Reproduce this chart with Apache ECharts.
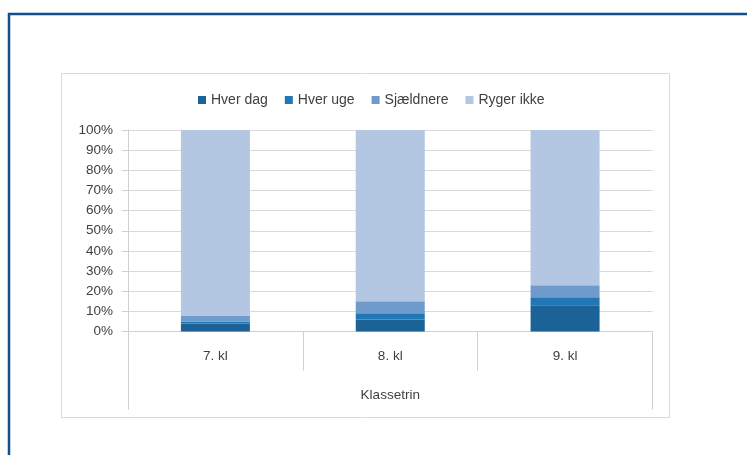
<!DOCTYPE html>
<html>
<head>
<meta charset="utf-8">
<script src="https://cdn.jsdelivr.net/npm/echarts@6/dist/echarts.min.js"></script>
<style>
html,body{margin:0;padding:0;background:#fff;}
#chart{width:747px;height:455px;}
</style>
</head>
<body>
<div id="chart"></div>
<script>
const categories = ['7. kl', '8. kl', '9. kl'];
const groupLabel = ['Klassetrin'];
const seriesNames = ['Hver dag', 'Hver uge', 'Sjældnere', 'Ryger ikke'];
const hverDag = [4, 6, 13];
const hverUge = [1, 3, 4];
const sjaeldnere = [3, 6, 6];
const rygerIkke = [92, 85, 77];
const colors = ['#1B6396', '#2176B4', '#6E9BCB', '#B3C6E2'];
const values = [hverDag, hverUge, sjaeldnere, rygerIkke];

const FONT = 'Liberation Sans';
const chart = echarts.init(document.getElementById('chart'));
chart.setOption({
  animation: false,
  textStyle: { fontFamily: FONT },
  graphic: [
    { type: 'rect', shape: { x: 9, y: 14, width: 800, height: 500 }, style: { fill: 'none', stroke: '#124E8C', lineWidth: 2.5 }, z: 0 },
    { type: 'rect', shape: { x: 61.5, y: 73.5, width: 608, height: 344 }, style: { fill: 'none', stroke: '#D9D9D9', lineWidth: 1 }, z: 0 }
  ],
  legend: {
    data: seriesNames,
    left: 193, top: 88,
    itemWidth: 8, itemHeight: 8, itemGap: 17,
    icon: 'rect',
    textStyle: { fontSize: 14, color: '#404040', fontFamily: FONT }
  },
  grid: { left: 128, right: 94.5, top: 130, bottom: 123.5 },
  xAxis: [
    {
      type: 'category', data: categories, position: 'bottom',
      axisLine: { show: true, lineStyle: { color: '#D0D0D0' } },
      axisTick: { show: true, length: 39, interval: 0, lineStyle: { color: '#D0D0D0' } },
      axisLabel: { margin: 18, fontSize: 13.5, color: '#404040', fontFamily: FONT }
    },
    {
      type: 'category', data: groupLabel, position: 'bottom',
      axisLine: { show: false },
      axisTick: { show: true, length: 78, interval: 0, lineStyle: { color: '#D0D0D0' } },
      axisLabel: { margin: 57, fontSize: 13.5, color: '#404040', fontFamily: FONT }
    }
  ],
  yAxis: {
    type: 'value', min: 0, max: 100, interval: 10,
    axisLine: { show: true, lineStyle: { color: '#D0D0D0' } },
    axisTick: { show: true, length: 6, lineStyle: { color: '#D0D0D0' } },
    splitLine: { show: true, lineStyle: { color: '#D9D9D9' } },
    axisLabel: { formatter: '{value}%', margin: 15, fontSize: 13.5, color: '#404040', fontFamily: FONT }
  },
  series: seriesNames.map((name, i) => ({
    name: name,
    type: 'bar',
    stack: 'total',
    xAxisIndex: 0,
    barWidth: 69,
    itemStyle: { color: colors[i] },
    data: values[i]
  }))
});
</script>
</body>
</html>
